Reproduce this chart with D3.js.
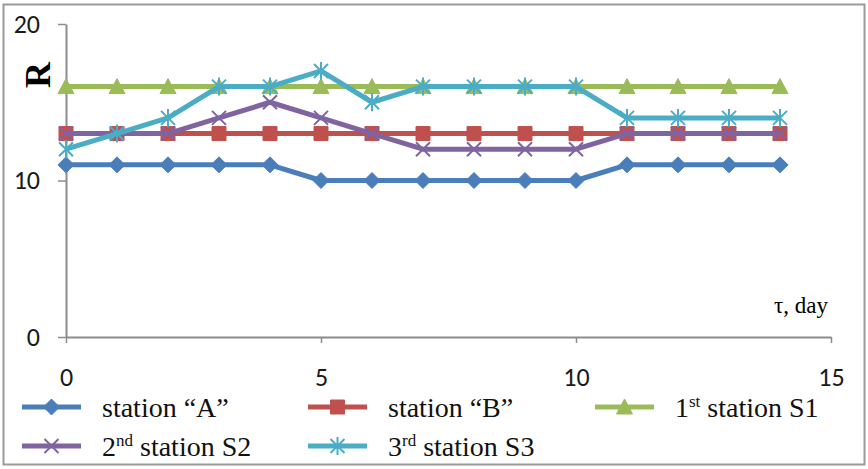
<!DOCTYPE html>
<html>
<head>
<meta charset="utf-8">
<script src="https://cdn.jsdelivr.net/npm/d3@7"></script>
<style>
  body { margin: 0; background: #fff; }
  svg { display: block; }
  .serif { font-family: "Liberation Serif", "Times New Roman", "DejaVu Serif", serif; }
</style>
</head>
<body>
<svg width="868" height="469"></svg>
<script>
var days = [0, 1, 2, 3, 4, 5, 6, 7, 8, 9, 10, 11, 12, 13, 14];
var stationA = [11, 11, 11, 11, 11, 10, 10, 10, 10, 10, 10, 11, 11, 11, 11];
var stationB = [13, 13, 13, 13, 13, 13, 13, 13, 13, 13, 13, 13, 13, 13, 13];
var stationS1 = [16, 16, 16, 16, 16, 16, 16, 16, 16, 16, 16, 16, 16, 16, 16];
var stationS2 = [13, 13, 13, 14, 15, 14, 13, 12, 12, 12, 12, 13, 13, 13, 13];
var stationS3 = [12, 13, 14, 16, 16, 17, 15, 16, 16, 16, 16, 14, 14, 14, 14];
var xTicks = [0, 5, 10, 15];
var yTicks = [0, 10, 20];

var series = [
  { name: 'A', values: stationA, color: '#4a7ebb', marker: 'diamond' },
  { name: 'B', values: stationB, color: '#c0504d', marker: 'square' },
  { name: 'S1', values: stationS1, color: '#9bbb59', marker: 'triangle' },
  { name: 'S2', values: stationS2, color: '#8064a2', marker: 'x' },
  { name: 'S3', values: stationS3, color: '#4bacc6', marker: 'star' }
];

var svg = d3.select('svg');

// outer frame
svg.append('rect')
  .attr('x', 3.5).attr('y', 4.5)
  .attr('width', 861).attr('height', 460)
  .attr('fill', 'none').attr('stroke', '#9a9a9a').attr('stroke-width', 2);

var x = d3.scaleLinear().domain([0, 15]).range([66, 831]);
var y = d3.scaleLinear().domain([0, 20]).range([337, 24]);

var axisColor = '#8c8c8c';

var xAxis = svg.append('g')
  .attr('transform', 'translate(0,' + y(0) + ')')
  .call(d3.axisBottom(x).tickValues(xTicks).tickSize(6).tickSizeOuter(0).tickPadding(25));
var yAxis = svg.append('g')
  .attr('transform', 'translate(' + x(0) + ',0)')
  .call(d3.axisLeft(y).tickValues(yTicks).tickSize(8).tickSizeOuter(0).tickPadding(18));

[xAxis, yAxis].forEach(function(g){
  g.attr('font-size', null).attr('font-family', null);
  g.select('.domain').attr('stroke', axisColor).attr('stroke-width', 2);
  g.selectAll('.tick line').attr('stroke', axisColor).attr('stroke-width', 1.5);
  g.selectAll('.tick text')
    .attr('fill', '#1a1a1a')
    .style('font-family', 'Carlito, "Open Sans", sans-serif')
    .style('font-size', '26px');
});

// axis titles
svg.append('text')
  .attr('class', 'serif')
  .attr('transform', 'translate(50,75) rotate(-90)')
  .attr('text-anchor', 'middle')
  .style('font-weight', 'bold')
  .style('font-size', '36px')
  .text('R');

svg.append('text')
  .attr('class', 'serif')
  .attr('x', 828).attr('y', 313)
  .attr('text-anchor', 'end')
  .style('font-size', '23px')
  .text('τ, day');

var markerPath = function(type) {
  if (type === 'diamond') return 'M0,-8L8,0L0,8L-8,0Z';
  if (type === 'square') return 'M-7,-7H7V7H-7Z';
  if (type === 'triangle') return 'M0,-8L8,7H-8Z';
  if (type === 'x') return 'M-7,-7L7,7M-7,7L7,-7';
  return 'M-7,-7L7,7M-7,7L7,-7M0,-9V9';
};

var line = d3.line()
  .x(function(d, i){ return x(days[i]); })
  .y(function(d){ return y(d); });

series.forEach(function(s){
  var g = svg.append('g');
  g.append('path')
    .attr('d', line(s.values))
    .attr('fill', 'none')
    .attr('stroke', s.color)
    .attr('stroke-width', 5)
    .attr('stroke-linejoin', 'round');
  var open = (s.marker === 'x' || s.marker === 'star');
  g.selectAll('path.mk').data(s.values).enter().append('path')
    .attr('class', 'mk')
    .attr('transform', function(d, i){ return 'translate(' + x(days[i]) + ',' + y(d) + ')'; })
    .attr('d', markerPath(s.marker))
    .attr('fill', open ? 'none' : s.color)
    .attr('stroke', s.color)
    .attr('stroke-width', open ? 2 : 1);
});

// legend
var legendNames = ['station \u201cA\u201d', 'station \u201cB\u201d', '1st station S1', '2nd station S2', '3rd station S3'];
var legendSup = [null, null, ['1', 'st', ' station S1'], ['2', 'nd', ' station S2'], ['3', 'rd', ' station S3']];
var legendPos = [[22, 407], [308, 407], [595, 407], [22, 446], [308, 446]];

series.forEach(function(s, i){
  var px = legendPos[i][0], py = legendPos[i][1];
  var open = (s.marker === 'x' || s.marker === 'star');
  var lg = svg.append('g');
  lg.append('line')
    .attr('x1', px).attr('x2', px + 59)
    .attr('y1', py).attr('y2', py)
    .attr('stroke', s.color).attr('stroke-width', 5);
  lg.append('path')
    .attr('transform', 'translate(' + (px + 29.5) + ',' + py + ')')
    .attr('d', markerPath(s.marker))
    .attr('fill', open ? 'none' : s.color)
    .attr('stroke', s.color)
    .attr('stroke-width', open ? 2 : 1);
  var t = lg.append('text')
    .attr('class', 'serif')
    .attr('x', px + 80).attr('y', py + 10)
    .style('font-size', '28px')
    .attr('fill', '#111');
  if (legendSup[i]) {
    t.append('tspan').text(legendSup[i][0]);
    t.append('tspan').attr('dy', -10).style('font-size', '17px').text(legendSup[i][1]);
    t.append('tspan').attr('dy', 10).text(legendSup[i][2]);
  } else {
    t.text(legendNames[i]);
  }
});
</script>
</body>
</html>
